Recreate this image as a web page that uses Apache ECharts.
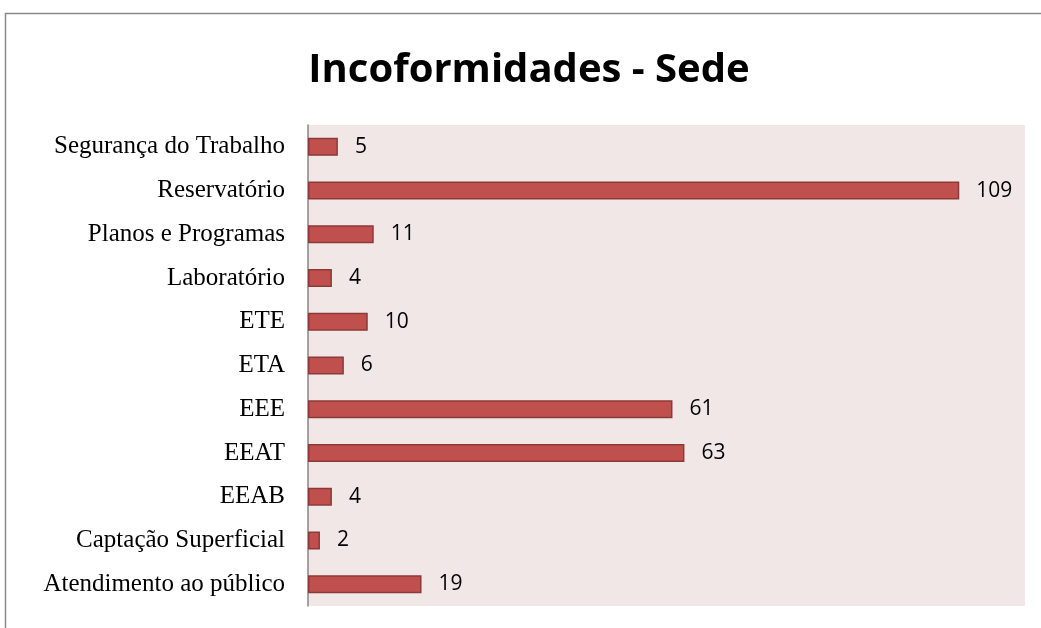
<!DOCTYPE html>
<html>
<head>
<meta charset="utf-8">
<script src="https://cdn.jsdelivr.net/npm/echarts@6/dist/echarts.min.js"></script>
<style>
  html, body { margin: 0; padding: 0; background: #fff; }
  #chart { width: 1041px; height: 628px; }
</style>
</head>
<body>
<div id="chart"></div>
<script>
// Non-conformity counts per area, listed bottom to top
const categories = [
  'Atendimento ao público',
  'Captação Superficial',
  'EEAB',
  'EEAT',
  'EEE',
  'ETA',
  'ETE',
  'Laboratório',
  'Planos e Programas',
  'Reservatório',
  'Segurança do Trabalho'
];
const counts = [19, 2, 4, 63, 61, 6, 10, 4, 11, 109, 5];

const chart = echarts.init(document.getElementById('chart'));
chart.setOption({
  backgroundColor: '#ffffff',
  animation: false,
  title: {
    text: 'Incoformidades - Sede',
    left: 524,
    textAlign: 'center',
    top: 46,
    textStyle: {
      fontFamily: 'Open Sans',
      fontWeight: 'bold',
      fontSize: 40,
      color: '#000'
    }
  },
  graphic: [{
    type: 'rect',
    shape: { x: 5.5, y: 13.5, width: 1060, height: 640 },
    style: { fill: 'none', stroke: '#8a8a8a', lineWidth: 1.5 },
    silent: true,
    z: -1
  }],
  grid: {
    left: 308,
    right: 16,
    top: 125,
    bottom: 22,
    show: true,
    backgroundColor: '#f2e7e7',
    borderWidth: 0
  },
  xAxis: {
    type: 'value',
    min: 0,
    max: 120,
    show: false
  },
  yAxis: {
    type: 'category',
    data: categories,
    axisLine: { show: true, lineStyle: { color: '#868686', width: 1.5 } },
    axisTick: { show: false },
    axisLabel: {
      margin: 23,
      fontFamily: 'Liberation Serif',
      fontSize: 25,
      color: '#000'
    }
  },
  series: [{
    type: 'bar',
    data: counts,
    barWidth: 18,
    itemStyle: {
      color: '#c0504d',
      borderColor: '#8c3a38',
      borderWidth: 1.5
    },
    label: {
      show: true,
      position: 'right',
      distance: 17,
      fontFamily: 'Open Sans',
      fontSize: 21,
      color: '#000'
    }
  }]
});
</script>
</body>
</html>
